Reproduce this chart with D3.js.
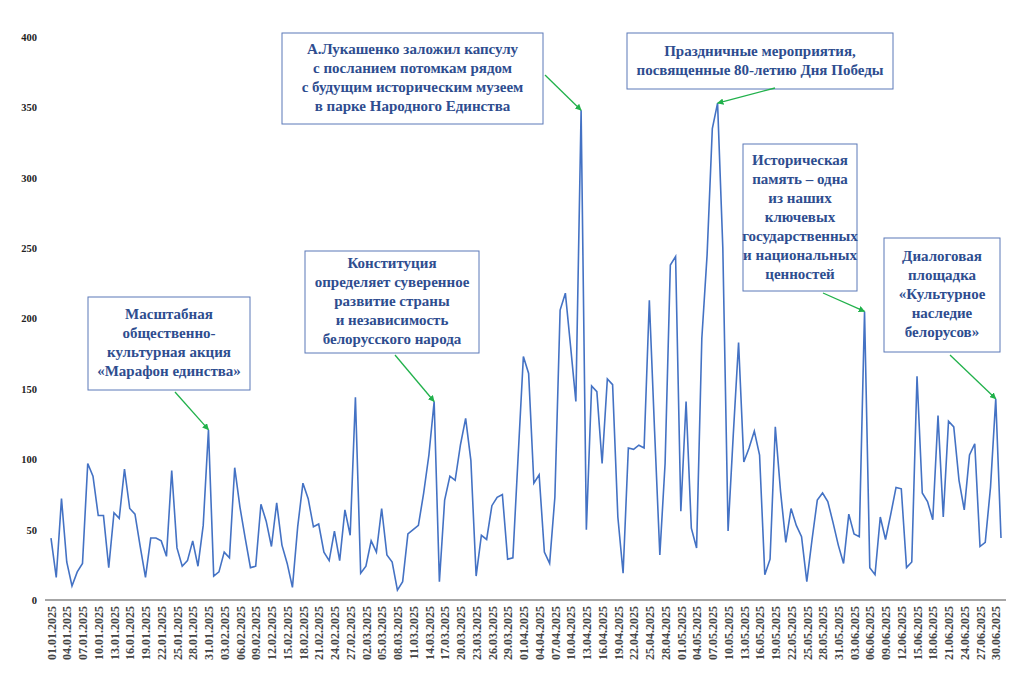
<!DOCTYPE html>
<html><head><meta charset="utf-8">
<script src="https://cdn.jsdelivr.net/npm/d3@7"></script>
<style>body{margin:0;background:#fff}svg{font-family:"Liberation Serif","Times New Roman",serif}</style>
</head><body><svg id="chart" width="1024" height="674"></svg>
<script>
var startDate = new Date(2025, 0, 1);
var values = [44,16,72,27,10,20,26,97,88,60,60,23,62,58,93,65,61,38,16,44,
44,42,31,92,37,24,28,42,24,53,121,17,20,34,30,94,66,44,23,24,
68,56,38,69,39,26,9,52,83,72,52,54,34,28,49,28,64,46,144,19,
24,42,34,65,32,27,7,13,47,50,53,76,103,141,13,71,88,85,110,129,
99,17,46,43,67,73,75,29,30,102,173,161,83,89,34,26,73,206,218,180,
141,348,50,152,148,97,157,153,59,19,108,107,110,108,213,120,32,97,238,244,
63,141,51,37,186,245,335,353,250,49,118,183,98,108,120,103,18,29,123,77,
41,65,53,45,13,43,71,76,70,55,39,26,61,47,45,205,23,18,59,43,
61,80,79,23,27,159,76,70,57,131,59,127,123,85,64,103,111,38,41,80,
143,44];
var yTicks = [0,50,100,150,200,250,300,350,400];
var notes = [
  {day:30, lines:["Масштабная","общественно-","культурная акция","«Марафон единства»"], box:[88,297,162,93], from:[175,392]},
  {day:73, lines:["Конституция","определяет суверенное","развитие страны","и независимость","белорусского народа"], box:[305,251,174,102], from:[395,355]},
  {day:101, lines:["А.Лукашенко заложил капсулу","с посланием потомкам рядом","с будущим историческим музеем","в парке Народного Единства"], box:[282,33,261,91], from:[545,75]},
  {day:127, lines:["Праздничные мероприятия,","посвященные 80-летию Дня Победы"], box:[627,33,266,56], from:[775,88]},
  {day:155, lines:["Историческая","память – одна","из наших","ключевых","государственных","и национальных","ценностей"], box:[743,144,114,147], from:[823,293]},
  {day:180, lines:["Диалоговая","площадка","«Культурное","наследие","белорусов»"], box:[884,238,116,114], from:[950,355]}
];

var svg = d3.select("#chart");
var x = d3.scaleLinear().domain([0, values.length - 1]).range([51, 1001]);
var y = d3.scaleLinear().domain([0, 400]).range([600, 37]);
var fmt = d3.timeFormat("%d.%m.%Y");

svg.append("defs").append("marker").attr("id","arr").attr("viewBox","0 0 10 10")
  .attr("refX",9).attr("refY",5).attr("markerWidth",5).attr("markerHeight",5).attr("orient","auto")
  .append("path").attr("d","M0,0L10,5L0,10z").attr("fill","#21b14b");

var ya = svg.append("g").attr("transform","translate(37,0)")
  .call(d3.axisLeft(y).tickValues(yTicks).tickSize(0).tickPadding(0));
ya.select(".domain").remove();
ya.selectAll("text").attr("font-size",10.5).attr("font-weight","bold").attr("fill","#222").attr("font-family","Liberation Serif");

var tickIdx = d3.range(0, values.length, 3);
var xa = svg.append("g").attr("transform","translate(0,600)")
  .call(d3.axisBottom(x).tickValues(tickIdx).tickSize(0)
    .tickFormat(function(d){ return fmt(d3.timeDay.offset(startDate, d)); }));
xa.select(".domain").attr("d","M45,0H1006").attr("stroke","#888").attr("stroke-width",1.5);
xa.selectAll("text").attr("font-size",12).attr("font-weight","bold").attr("fill","#444")
  .attr("font-family","Liberation Serif")
  .attr("transform","rotate(-90)").attr("text-anchor","end").attr("dx","-6").attr("dy","0.35em").attr("y",0);

svg.append("path").datum(values).attr("fill","none").attr("stroke","#4472c4").attr("stroke-width",1.6)
  .attr("d", d3.line().x(function(d,i){return x(i);}).y(function(d){return y(d);}));

notes.forEach(function(n){
  var b = n.box;
  var g = svg.append("g");
  g.append("rect").attr("x",b[0]).attr("y",b[1]).attr("width",b[2]).attr("height",b[3])
    .attr("fill","#fff").attr("stroke","#5b79b8").attr("stroke-width",1);
  var lh = 19, top = b[1] + b[3]/2 - (n.lines.length*lh)/2 + lh*0.72;
  n.lines.forEach(function(t,i){
    g.append("text").attr("x",b[0]+b[2]/2).attr("y",top+i*lh).attr("text-anchor","middle")
      .attr("font-size",15).attr("font-weight","bold").attr("fill","#2e4d8f").text(t);
  });
  svg.append("line").attr("x1",n.from[0]).attr("y1",n.from[1])
    .attr("x2",x(n.day)).attr("y2",y(values[n.day]))
    .attr("stroke","#21b14b").attr("stroke-width",1.3).attr("marker-end","url(#arr)");
});
</script></body></html>
